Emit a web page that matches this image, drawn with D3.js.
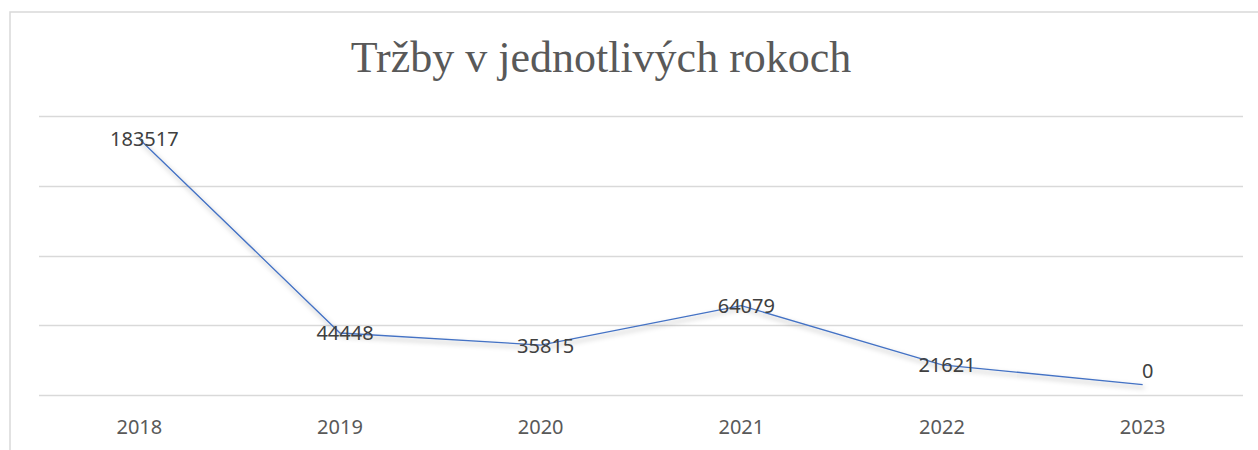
<!DOCTYPE html>
<html>
<head>
<meta charset="utf-8">
<script src="https://cdn.jsdelivr.net/npm/d3@7/dist/d3.min.js"></script>
<style>
  html, body { margin: 0; padding: 0; background: #fff; }
  svg { display: block; }
</style>
</head>
<body>
<svg id="chart" width="1258" height="450"></svg>
<script>
// ---- data ----
const categories = ["2018", "2019", "2020", "2021", "2022", "2023"];
const values = [183517, 44448, 35815, 64079, 21621, 7500];   // plotted positions
const dataLabels = ["183517", "44448", "35815", "64079", "21621", "0"];
const yTicks = [0, 50000, 100000, 150000, 200000];
const title = "Tržby v jednotlivých rokoch";

// ---- layout ----
const W = 1258, H = 450;
const plot = { left: 39, right: 1243, top: 116, bottom: 395 };

const svg = d3.select("#chart");

const defs = svg.append("defs");
const f = defs.append("filter").attr("id", "shadow")
  .attr("x", "-10%").attr("y", "-10%").attr("width", "120%").attr("height", "130%");
f.append("feDropShadow")
  .attr("dx", 1.5).attr("dy", 3).attr("stdDeviation", 2.4)
  .attr("flood-color", "#000").attr("flood-opacity", 0.35);

// chart border
svg.append("rect")
  .attr("x", 10).attr("y", 12).attr("width", 1400).attr("height", 600)
  .attr("fill", "#fff").attr("stroke", "#d9d9d9").attr("stroke-width", 1.5);

const x = d3.scalePoint().domain(categories).range([plot.left, plot.right]).padding(0.5);
const y = d3.scaleLinear().domain([0, 200000]).range([plot.bottom, plot.top]);

// gridlines
svg.append("g").selectAll("line").data(yTicks).join("line")
  .attr("x1", plot.left).attr("x2", plot.right)
  .attr("y1", d => Math.round(y(d)) + 0.5).attr("y2", d => Math.round(y(d)) + 0.5)
  .attr("stroke", "#d9d9d9").attr("stroke-width", 1.6);

// x axis labels
svg.append("g").selectAll("text").data(categories).join("text")
  .attr("x", d => x(d)).attr("y", 426)
  .attr("text-anchor", "middle").attr("dominant-baseline", "central")
  .attr("font-family", "'Noto Sans', 'Open Sans', sans-serif")
  .attr("font-size", 20).attr("fill", "#595959")
  .text(d => d);

// title
svg.append("text")
  .attr("x", 601).attr("y", 72)
  .attr("text-anchor", "middle")
  .attr("font-family", "'Liberation Serif', 'Times New Roman', serif")
  .attr("font-size", 44).attr("fill", "#595959")
  .text(title);

// line
const pts = categories.map((c, i) => ({ c, v: values[i], label: dataLabels[i], i }));
const line = d3.line().x(d => x(d.c)).y(d => y(d.v));
svg.append("path").datum(pts)
  .attr("d", line).attr("fill", "none")
  .attr("stroke", "#4472c4").attr("stroke-width", 1.3)
  .attr("filter", "url(#shadow)");

// data labels
svg.append("g").selectAll("text").data(pts).join("text")
  .attr("x", d => x(d.c) + 5)
  .attr("y", d => y(d.v) + (d.i === pts.length - 1 ? -14 : 0))
  .attr("text-anchor", "middle").attr("dominant-baseline", "central")
  .attr("font-family", "'Noto Sans', 'Open Sans', sans-serif")
  .attr("font-size", 20).attr("fill", "#404040")
  .text(d => d.label);
</script>
</body>
</html>
